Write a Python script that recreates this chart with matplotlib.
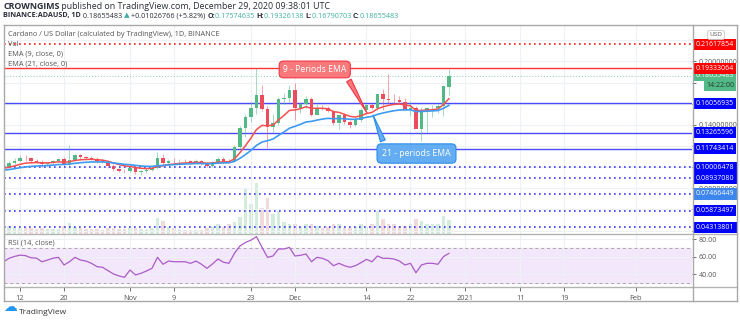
# ADA/USD 日足チャート（TradingView スクリーンショット風）の再現
import numpy as np
import pandas as pd
import matplotlib
matplotlib.use("Agg")
import matplotlib.pyplot as plt
import matplotlib.dates as mdates
import matplotlib.transforms as mtransforms
from matplotlib.lines import Line2D

W, H = 740, 324
plt.rcParams["font.family"] = ["Open Sans", "DejaVu Sans"]

# ---------------- data ----------------
dates = pd.date_range("2020-10-09", "2020-12-29", freq="D")

opens = [0.0975, 0.1005, 0.1040, 0.1062, 0.1088, 0.1082, 0.1056, 0.1050, 0.1030, 0.1041,
         0.1060, 0.1076, 0.1030, 0.1070, 0.1112, 0.1094, 0.1088, 0.1080, 0.1054, 0.1050,
         0.1010, 0.0980, 0.0966, 0.0960, 0.0990, 0.0950, 0.0961, 0.0976, 0.0995, 0.1085,
         0.1040, 0.1062, 0.1056, 0.1059, 0.1056, 0.1049, 0.1063, 0.1036, 0.1012, 0.1046,
         0.1080, 0.1061, 0.1055, 0.1190, 0.1370, 0.1470, 0.1560, 0.1680, 0.1550, 0.1380,
         0.1420, 0.1645, 0.1655, 0.1730, 0.1560, 0.1600, 0.1645, 0.1495, 0.1560, 0.1555,
         0.1530, 0.1420, 0.1490, 0.1430, 0.1400, 0.1450, 0.1540, 0.1585, 0.1560, 0.1690,
         0.1645, 0.1638, 0.1632, 0.1612, 0.1545, 0.1555, 0.1360, 0.1535, 0.1555, 0.1560,
         0.1575, 0.17574635]
highs = [0.1010, 0.1060, 0.1085, 0.1112, 0.1118, 0.1100, 0.1080, 0.1066, 0.1052, 0.1070,
         0.1090, 0.1095, 0.1205, 0.1122, 0.1126, 0.1110, 0.1104, 0.1095, 0.1075, 0.1066,
         0.1030, 0.0996, 0.0985, 0.1002, 0.1000, 0.0975, 0.0990, 0.1010, 0.1140, 0.1120,
         0.1076, 0.1082, 0.1075, 0.1080, 0.1070, 0.1075, 0.1070, 0.1046, 0.1060, 0.1092,
         0.1096, 0.1076, 0.1205, 0.1390, 0.1500, 0.1620, 0.1935, 0.1780, 0.1580, 0.1500,
         0.1660, 0.1700, 0.1780, 0.1800, 0.1620, 0.1670, 0.1660, 0.1600, 0.1590, 0.1580,
         0.1545, 0.1490, 0.1500, 0.1450, 0.1470, 0.1560, 0.1600, 0.1610, 0.1600, 0.1740,
         0.1880, 0.1690, 0.1670, 0.1650, 0.1630, 0.1575, 0.1570, 0.1545, 0.1585, 0.1600,
         0.1640, 0.19326138]
lows = [0.0962, 0.0995, 0.1028, 0.1045, 0.1062, 0.1040, 0.1035, 0.1005, 0.1015, 0.1030,
        0.1045, 0.1018, 0.0990, 0.1055, 0.1074, 0.1070, 0.1064, 0.1040, 0.1036, 0.0994,
        0.0964, 0.0950, 0.0944, 0.0950, 0.0935, 0.0930, 0.0945, 0.0960, 0.0985, 0.1010,
        0.1028, 0.1036, 0.1040, 0.1045, 0.1035, 0.1040, 0.1025, 0.1000, 0.1000, 0.1035,
        0.1040, 0.1040, 0.1045, 0.1170, 0.1290, 0.1430, 0.1500, 0.1530, 0.1180, 0.1330,
        0.1400, 0.1600, 0.1620, 0.1450, 0.1510, 0.1560, 0.1480, 0.1490, 0.1540, 0.1520,
        0.1400, 0.1360, 0.1410, 0.1370, 0.1385, 0.1430, 0.1520, 0.1550, 0.1540, 0.1540,
        0.1600, 0.1610, 0.1600, 0.1580, 0.1480, 0.1500, 0.1250, 0.1330, 0.1470, 0.1510,
        0.1480, 0.16790703]
closes = [0.1005, 0.1040, 0.1062, 0.1088, 0.1082, 0.1056, 0.1050, 0.1030, 0.1041, 0.1060,
          0.1076, 0.1030, 0.1070, 0.1112, 0.1094, 0.1088, 0.1080, 0.1054, 0.1050, 0.1010,
          0.0980, 0.0966, 0.0960, 0.0990, 0.0950, 0.0961, 0.0976, 0.0995, 0.1085, 0.1040,
          0.1062, 0.1056, 0.1059, 0.1056, 0.1049, 0.1063, 0.1036, 0.1012, 0.1046, 0.1080,
          0.1061, 0.1055, 0.1190, 0.1370, 0.1470, 0.1560, 0.1680, 0.1550, 0.1380, 0.1420,
          0.1645, 0.1655, 0.1730, 0.1560, 0.1600, 0.1645, 0.1495, 0.1560, 0.1555, 0.1530,
          0.1420, 0.1490, 0.1430, 0.1400, 0.1450, 0.1540, 0.1585, 0.1560, 0.1690, 0.1645,
          0.1638, 0.1632, 0.1612, 0.1545, 0.1555, 0.1360, 0.1535, 0.1555, 0.1560, 0.1575,
          0.1763, 0.18655483]
volumes = [520, 320, 280, 240, 280, 240, 200, 240, 200, 200, 200, 320, 440, 280, 240, 200,
           200, 200, 160, 240, 240, 200, 200, 240, 240, 200, 200, 240, 640, 520, 280, 240,
           200, 160, 160, 160, 160, 240, 280, 400, 280, 400, 480, 680, 1800, 1200, 2040, 1040,
           1440, 800, 920, 480, 400, 400, 280, 400, 400, 320, 240, 280, 400, 400, 240, 240,
           280, 400, 280, 400, 920, 600, 400, 400, 320, 320, 400, 600, 520, 400, 400, 400,
           720, 560]
rsi = [54.5, 58.4, 60.5, 62.0, 61.4, 59.0, 58.5, 54.5, 56.4, 58.5, 59.5, 50.8, 54.5, 59.5,
       56.4, 55.3, 52.7, 48.9, 48.2, 44.4, 40.6, 38.4, 36.8, 45.1, 39.5, 41.3, 44.0, 47.0,
       59.5, 51.6, 55.3, 54.5, 54.5, 54.5, 52.7, 55.3, 51.6, 47.0, 52.0, 57.6, 53.9, 52.7,
       64.1, 72.4, 76.4, 79.0, 83.0, 71.0, 59.5, 61.0, 69.0, 69.0, 70.8, 61.0, 61.8, 63.3,
       54.5, 59.5, 58.4, 55.7, 50.0, 52.7, 50.0, 48.2, 50.0, 53.4, 57.2, 54.5, 61.0, 58.4,
       58.4, 57.6, 55.3, 50.8, 52.7, 42.0, 50.8, 52.7, 52.7, 51.6, 60.3, 64.1]

red_levels = [0.21617854, 0.19333064]
blue_solid = [0.16056935, 0.13265596, 0.11743414]
blue_dotted = [0.10006478, 0.08937080, 0.07466449, 0.05873497, 0.04313801]
last_price = 0.18655483
ema9_seed, ema21_seed = 0.0985, 0.0968

# 価格目盛り（タグに隠れる目盛りはラベルなし）
price_ticks = [0.04, 0.06, 0.08, 0.10, 0.12, 0.14, 0.16, 0.18, 0.20, 0.22]
price_tick_labels = ["", "", "0.08000000", "", "", "0.14000000", "", "", "0.20000000", ""]
tick_dates = ["2020-10-12", "2020-10-20", "2020-11-01", "2020-11-09", "2020-11-23",
              "2020-12-01", "2020-12-14", "2020-12-22", "2021-01-01", "2021-01-11",
              "2021-01-19", "2021-02-01"]
tick_labels = ["12", "20", "Nov", "9", "23", "Dec", "14", "22", "2021", "11", "19", "Feb"]

UP, DOWN = "#53b987", "#eb4d5c"
TXT = "#555555"
GRID = "#eef1f5"

# EMA (TradingView の EMA と同じ再帰式)
ema9 = pd.Series([ema9_seed] + closes).ewm(span=9, adjust=False).mean().iloc[1:].values
ema21 = pd.Series([ema21_seed] + closes).ewm(span=21, adjust=False).mean().iloc[1:].values

o = np.array(opens); c = np.array(closes)
x = mdates.date2num(dates)
x0 = mdates.date2num(pd.Timestamp("2020-10-12"))
up = c >= o
cols = np.where(up, UP, DOWN)

fig = plt.figure(figsize=(W / 100, H / 100), dpi=100)
fig.patch.set_facecolor("white")
L, PW = 4 / W, 688 / W
ax_vol = fig.add_axes([L, 1 - 234 / H, PW, 209 / H])
ax = fig.add_axes([L, 1 - 234 / H, PW, 209 / H], sharex=ax_vol)
ax_rsi = fig.add_axes([L, 1 - 287 / H, PW, 53 / H], sharex=ax_vol)
ax.patch.set_visible(False)

for a in (ax, ax_vol, ax_rsi):
    for s in a.spines.values():
        s.set_visible(False)

# ---- volume ----
ax_vol.bar(x, volumes, width=0.62, color=np.where(up, "#d3ecdc", "#f1dada"), linewidth=0)
ax_vol.set_ylim(0, 209 * 40)
ax_vol.tick_params(left=False, labelleft=False, bottom=False, labelbottom=False)

# ---- candles ----
ax.vlines(x, lows, highs, colors=cols, lw=0.6, alpha=0.6, zorder=3)
ax.bar(x, np.maximum(np.abs(c - o), 0.0005), bottom=np.minimum(o, c), width=0.62,
       color=cols, linewidth=0, zorder=4)
ax.plot(x, ema9, color="#f4504f", lw=1.1, zorder=5)
ax.plot(x, ema21, color="#3d9bf0", lw=1.2, zorder=5)

# ---- horizontal levels ----
ax.axhline(red_levels[0], color="#ff1a1a", lw=1.2, ls=(0, (1, 2)), zorder=2)
ax.axhline(red_levels[1], color="#ff3333", lw=1.0, zorder=2)
for p in blue_solid:
    ax.axhline(p, color="#4a4aff", lw=1.0, zorder=2)
for p in blue_dotted:
    ax.axhline(p, color="#3a3aff", lw=1.2, ls=(0, (1, 2)), zorder=2)
ax.axhline(last_price, color=UP, lw=0.7, ls=(0, (1, 2)), alpha=0.7, zorder=2)

ax.set_xlim(x0 - 2.91, x0 + 122.2)
ax.set_ylim(0.03681, 0.23443)
ax.set_yticks(price_ticks)
ax.set_yticklabels(price_tick_labels)
ax.yaxis.tick_right()
ax.tick_params(axis="y", labelsize=5.0, colors=TXT, length=3, width=0.6, pad=2)
ax.tick_params(axis="x", bottom=False, labelbottom=False)
ax.grid(color=GRID, lw=0.8, zorder=0)

# price tags on the axis
trans = mtransforms.blended_transform_factory(ax.transAxes, ax.transData)
tag = dict(transform=trans, ha="left", va="center", fontsize=5.0, color="white",
           clip_on=False, zorder=10)
ax.text(1 + 4 / 688, last_price, f"{last_price:.8f}",
        bbox=dict(boxstyle="square,pad=0.3", fc=UP, ec="none"), **tag)
ax.annotate("14:22:00", xy=(1, last_price), xycoords=trans, xytext=(14, -10),
            textcoords="offset pixels", ha="left", va="center", fontsize=5.0, color="#1d3b2a",
            bbox=dict(boxstyle="square,pad=0.3", fc=UP, ec="none"), annotation_clip=False,
            zorder=10)
for p in red_levels:
    ax.text(1 + 4 / 688, p, f"{p:.8f}", bbox=dict(boxstyle="square,pad=0.3", fc="#ff0000", ec="none"), **tag)
for p in blue_solid + blue_dotted:
    fc = "#3d86ee" if p == blue_dotted[2] else "#0000ff"
    ax.text(1 + 4 / 688, p, f"{p:.8f}", bbox=dict(boxstyle="square,pad=0.3", fc=fc, ec="none"), **tag)

# callouts
ax.annotate("9 - Periods EMA", xy=(x0 + 63.1, 0.1512), xytext=(x0 + 53.6, 0.1924),
            ha="center", va="center", fontsize=6.2, color="white", zorder=8,
            bbox=dict(boxstyle="round,pad=0.45,rounding_size=0.5", fc="#f7797b", ec="#f23645", lw=0.8),
            arrowprops=dict(arrowstyle="wedge,tail_width=0.6,shrink_factor=0.5", fc="#f7797b",
                            ec="#f23645", lw=0.8, relpos=(0.97, 0.15), shrinkB=0))
ax.annotate("21 - periods EMA", xy=(x0 + 64.2, 0.1493), xytext=(x0 + 72.1, 0.1129),
            ha="center", va="center", fontsize=6.2, color="white", zorder=8,
            bbox=dict(boxstyle="round,pad=0.6,rounding_size=0.5", fc="#64adf2", ec="#2e8ee8", lw=0.8),
            arrowprops=dict(arrowstyle="wedge,tail_width=0.6,shrink_factor=0.5", fc="#64adf2",
                            ec="#2e8ee8", lw=0.8, relpos=(0.06, 0.9), shrinkB=0))

# ---- RSI ----
ax_rsi.axhspan(30, 70, color="#f3e7fb", zorder=0)
ax_rsi.axhline(70, color="#a8a8a8", lw=0.7, dashes=(3, 3))
ax_rsi.axhline(30, color="#a8a8a8", lw=0.7, dashes=(3, 3))
ax_rsi.plot(x, rsi, color="#ab5bc7", lw=0.9, zorder=4)
ax_rsi.set_ylim(25.8, 86)
ax_rsi.set_yticks([40, 60, 80])
ax_rsi.set_yticklabels(["40.00", "60.00", "80.00"])
ax_rsi.yaxis.tick_right()
ax_rsi.tick_params(axis="y", labelsize=5.0, colors=TXT, length=3, width=0.6, pad=2)
ax_rsi.set_xticks(mdates.date2num(pd.to_datetime(tick_dates)))
ax_rsi.set_xticklabels(tick_labels)
ax_rsi.tick_params(axis="x", labelsize=5.3, colors=TXT, length=3, width=0.6, pad=3)
ax_rsi.grid(color=GRID, lw=0.8, zorder=0)
ax_rsi.set_xlim(x0 - 2.91, x0 + 122.2)

# ---- frame lines ----
def hline_px(y, x1, x2, color="#a9a9a9", lw=1.0):
    fig.add_artist(Line2D([x1 / W, x2 / W], [1 - y / H, 1 - y / H], transform=fig.transFigure,
                          color=color, lw=lw))

def vline_px(xp, y1, y2, color="#a9a9a9", lw=1.0):
    fig.add_artist(Line2D([xp / W, xp / W], [1 - y1 / H, 1 - y2 / H], transform=fig.transFigure,
                          color=color, lw=lw))

hline_px(25, 4, 737)
hline_px(301, 4, 737)
hline_px(234, 4, 737, "#b4b4b4")
hline_px(287, 4, 737, "#b4b4b4")
vline_px(4, 25, 301)
vline_px(737, 25, 301)
vline_px(692.5, 25, 301)

# ---- texts ----
def ftext(xp, yp, s, **kw):
    return fig.text(xp / W, 1 - yp / H, s, va="center", ha="left", **kw)

ftext(8, 34, "Cardano / US Dollar (calculated by TradingView), 1D, BINANCE", fontsize=5.3, color=TXT)
ftext(8, 44.5, "Vol", fontsize=5.3, color=TXT)
ftext(8, 54, "EMA (9, close, 0)", fontsize=5.3, color=TXT)
ftext(8, 64, "EMA (21, close, 0)", fontsize=5.3, color=TXT)
ftext(8, 243, "RSI (14, close)", fontsize=5.3, color=TXT)
fig.text(716 / W, 1 - 35 / H, "USD", fontsize=4.6, color=TXT, ha="center", va="center",
         bbox=dict(boxstyle="round,pad=0.3", fc="white", ec="#c4c4c4", lw=0.6), zorder=12)

renderer = fig.canvas.get_renderer()

def runs(xp, yp, parts, size):
    for s, color, weight in parts:
        t = ftext(xp, yp, s, fontsize=size, color=color, fontweight=weight)
        xp += t.get_window_extent(renderer=renderer).width

TEAL = "#3fb1a1"
DARK = "#2a2e39"
runs(3, 6.5, [("CROWNGIMS", DARK, "bold"),
              (" published on TradingView.com, December 29, 2020 09:38:01 UTC", DARK, "normal")], 6.4)
runs(3, 16, [("BINANCE:ADAUSD, 1D", DARK, "bold"), (" 0.18655483 ", DARK, "normal"),
             ("▲", TEAL, "normal"), (" +0.01026766 (+5.82%) ", DARK, "normal"),
             ("O:", DARK, "bold"), ("0.17574635 ", TEAL, "normal"),
             ("H:", DARK, "bold"), ("0.19326138 ", TEAL, "normal"),
             ("L:", DARK, "bold"), ("0.16790703 ", TEAL, "normal"),
             ("C:", DARK, "bold"), ("0.18655483", TEAL, "normal")], 5.2)

# TradingView logo
fig.text(3 / W, 1 - 307 / H, "☁", fontsize=10, color="#2196f3", family="DejaVu Sans",
         ha="left", va="center")
ftext(19, 312, "TradingView", fontsize=6.0, color="#333333")

fig.savefig("out.png", dpi=100)
